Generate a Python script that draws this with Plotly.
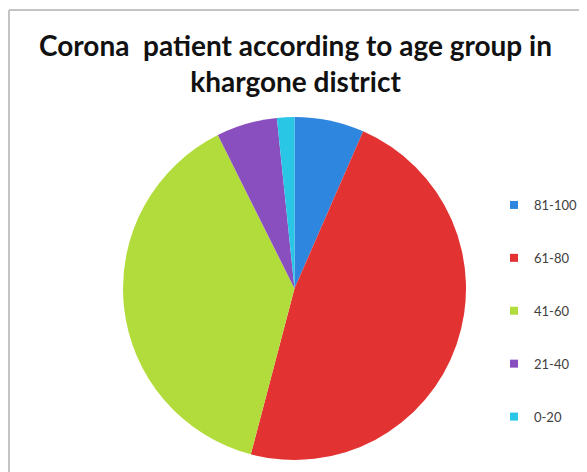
import plotly.graph_objects as go

age_groups = ["81-100", "61-80", "41-60", "21-40", "0-20"]
patients = [8, 58, 47, 7, 2]
colors = ["#2f86de", "#e23232", "#b2dc3c", "#8a4fbe", "#29c6e6"]

# page body adds an 8px offset; figure drawn in a 579x464 box
W, H = 579, 464

fig = go.Figure()
fig.add_trace(go.Pie(
    labels=age_groups, values=patients,
    marker=dict(colors=colors, line=dict(width=0)),
    sort=False, direction="clockwise", rotation=0,
    textinfo="none", showlegend=False,
    domain=dict(x=[115 / W, 458 / W], y=[(H - 452) / H, (H - 109) / H]),
))
for g, c in zip(age_groups, colors):
    fig.add_trace(go.Scatter(
        x=[None], y=[None], mode="markers", name=g, legendgroup=g,
        marker=dict(symbol="square", size=8, color=c),
    ))

fig.update_layout(
    width=W, height=H,
    margin=dict(l=0, r=0, t=0, b=0),
    paper_bgcolor="white", plot_bgcolor="white",
    xaxis=dict(visible=False), yaxis=dict(visible=False),
    title=dict(
        text="Corona\u00a0 patient according to age group in<br>khargone district",
        x=287.5 / W, xanchor="center", xref="paper",
        y=1 - 48 / H, yanchor="top", yref="container",
        font=dict(family="Lato", size=28, color="#111111", weight="bold"),
    ),
    legend=dict(
        x=486 / W, xanchor="left", y=1 - 182 / H, yanchor="top",
        font=dict(family="Lato", size=13, color="#404040"),
        tracegroupgap=33, bgcolor="rgba(0,0,0,0)",
    ),
    shapes=[
        dict(type="line", xref="paper", yref="paper",
             x0=1 / W, x1=1 / W, y0=0, y1=1 - 2 / H,
             line=dict(color="#c4c4c4", width=2)),
        dict(type="line", xref="paper", yref="paper",
             x0=1 / W, x1=1, y0=1 - 2 / H, y1=1 - 2 / H,
             line=dict(color="#c4c4c4", width=2)),
    ],
)
fig.write_html("out.html")
